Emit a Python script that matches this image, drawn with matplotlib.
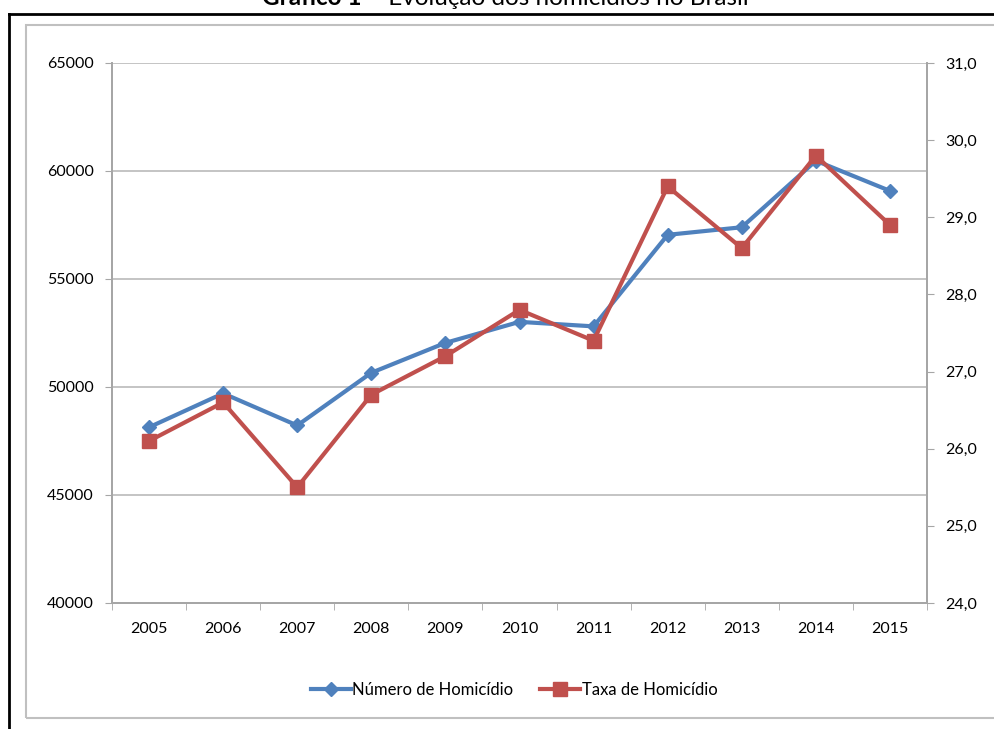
import matplotlib.pyplot as plt
from matplotlib.lines import Line2D
from matplotlib.patches import Rectangle

plt.rcParams['font.family'] = ['Lato', 'DejaVu Sans']

anos = ['2005', '2006', '2007', '2008', '2009', '2010',
        '2011', '2012', '2013', '2014', '2015']
numero = [48136, 49704, 48219, 50659, 52043, 53016,
          52807, 57045, 57396, 60474, 59080]
taxa = [26.1, 26.6, 25.5, 26.7, 27.2, 27.8, 27.4, 29.4, 28.6, 29.8, 28.9]
ticks_esq = [40000, 45000, 50000, 55000, 60000, 65000]
ticks_dir = [24, 25, 26, 27, 28, 29, 30, 31]
labels_dir = ['24,0', '25,0', '26,0', '27,0', '28,0', '29,0', '30,0', '31,0']

W, H = 994, 729
fig = plt.figure(figsize=(W / 100, H / 100), dpi=100)

# moldura preta da página e caixa cinza do gráfico
fig.add_artist(Line2D([9 / W, 9 / W], [0, 1 - 14 / H], color='black', lw=2))
fig.add_artist(Line2D([9 / W, 1], [1 - 14 / H, 1 - 14 / H], color='black', lw=2))
fig.add_artist(Rectangle((26 / W, 1 - 718 / H), 1.1, (718 - 25) / H,
                         fill=False, ec='#c0c0c0', lw=1.5))

# título (cortado no topo, como no original)
fig.text(362 / W, 1 - 5 / H, 'Gráfico 1', ha='right', va='baseline',
         fontsize=17.5, fontweight='bold')
fig.text(368 / W, 1 - 5 / H, '– Evolução dos homicídios no Brasil', ha='left',
         va='baseline', fontsize=17.5)

ax = fig.add_axes([112 / W, 1 - 603 / H, 815 / W, 540 / H])
x = range(len(anos))
gray = '#a6a6a6'
azul = '#4f81bd'
verm = '#c0504d'

ax.plot(x, numero, color=azul, lw=3, marker='D', markersize=7,
        label='Número de Homicídio', zorder=3)
ax.set_xlim(-0.5, len(anos) - 0.5)
ax.set_ylim(40000, 65000)
ax.set_yticks(ticks_esq)
ax.set_xticks(list(x))
ax.set_xticklabels(anos)
ax.set_xticks([i - 0.5 for i in range(len(anos) + 1)], minor=True)
ax.tick_params(axis='x', which='major', length=0, pad=14, labelsize=11.5)
ax.tick_params(axis='x', which='minor', length=5, color=gray, direction='out')
ax.tick_params(axis='y', length=5, color=gray, pad=8, labelsize=11.5)
ax.grid(axis='y', color='#bfbfbf', lw=1.3)
ax.set_axisbelow(True)
for s in ax.spines.values():
    s.set_color(gray)
    s.set_linewidth(1.3)
ax.spines['top'].set_visible(False)

ax2 = ax.twinx()
ax2.plot(x, taxa, color=verm, lw=3, marker='s', markersize=10,
         label='Taxa de Homicídio', zorder=3)
ax2.set_ylim(24, 31)
ax2.set_yticks(ticks_dir)
ax2.set_yticklabels(labels_dir)
ax2.tick_params(axis='y', length=5, color=gray, pad=8, labelsize=11.5)
for s in ax2.spines.values():
    s.set_color(gray)
    s.set_linewidth(1.3)
ax2.spines['top'].set_visible(False)

h1, l1 = ax.get_legend_handles_labels()
h2, l2 = ax2.get_legend_handles_labels()
fig.legend(h1 + h2, l1 + l2, loc='center', bbox_to_anchor=(514 / W, 1 - 690 / H),
           ncol=2, frameon=False, fontsize=12, handlelength=2.4,
           handletextpad=0.1, columnspacing=1.6)

fig.savefig('out.png', dpi=100)
